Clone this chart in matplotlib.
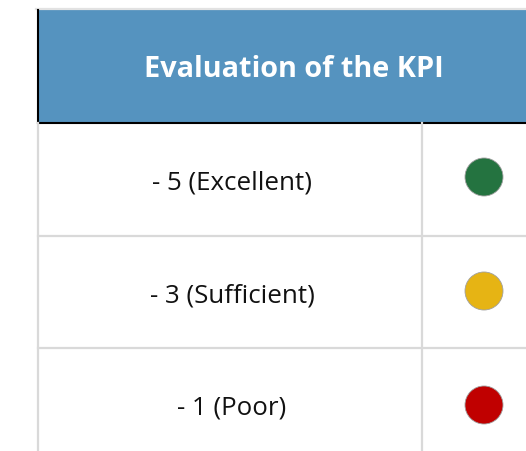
import matplotlib.pyplot as plt
from matplotlib.patches import Rectangle, Circle

header = 'Evaluation of the KPI'
labels = ['- 5 (Excellent)', '- 3 (Sufficient)', '- 1 (Poor)']
colors = ['#247340', '#E6B414', '#C00000']

W, H = 526, 451
left, right = 38, 526
top, head_bottom = 10, 123
row_h = 112.5
dot_step = 114
col_split = 422
grid = '#D9D9D9'

fig = plt.figure(figsize=(W / 100, H / 100), dpi=100)
ax = fig.add_axes([0, 0, 1, 1])
ax.set_xlim(0, W)
ax.set_ylim(H, 0)
ax.axis('off')

# header band (the header cell runs on past the right edge)
ax.add_patch(Rectangle((left, top), right - left, head_bottom - top, facecolor='#5593BF', edgecolor='none'))
ax.plot([left - 2, right], [top - 1, top - 1], color='#E2E2E2', lw=1.6)
ax.plot([left, left], [top, head_bottom], color='black', lw=1.5)
ax.plot([left, right], [head_bottom, head_bottom], color='black', lw=1.5)
ax.text((left + right) / 2 + 12, (top + head_bottom) / 2 + 10.5, header, color='white', fontsize=20.8,
        fontweight='bold', family='Open Sans', ha='center', va='baseline')

# body grid
ax.plot([left, left], [head_bottom, H], color=grid, lw=1.6)
ax.plot([col_split, col_split], [head_bottom, H], color=grid, lw=1.6)
for i, (lab, c) in enumerate(zip(labels, colors)):
    yc = head_bottom + (i + 0.5) * row_h
    if i > 0:
        ax.plot([left, right], [head_bottom + i * row_h] * 2, color=grid, lw=1.6)
    ax.text((left + col_split) / 2 + 2, yc + 10.5, lab, fontsize=18.6, family='Open Sans',
            color='#111111', ha='center', va='baseline')
    ax.add_patch(Circle((484, head_bottom + (i + 0.5) * dot_step - 3), 19,
                        facecolor=c, edgecolor='#A0A0A0', lw=0.6))

fig.savefig('out.png', dpi=100)
